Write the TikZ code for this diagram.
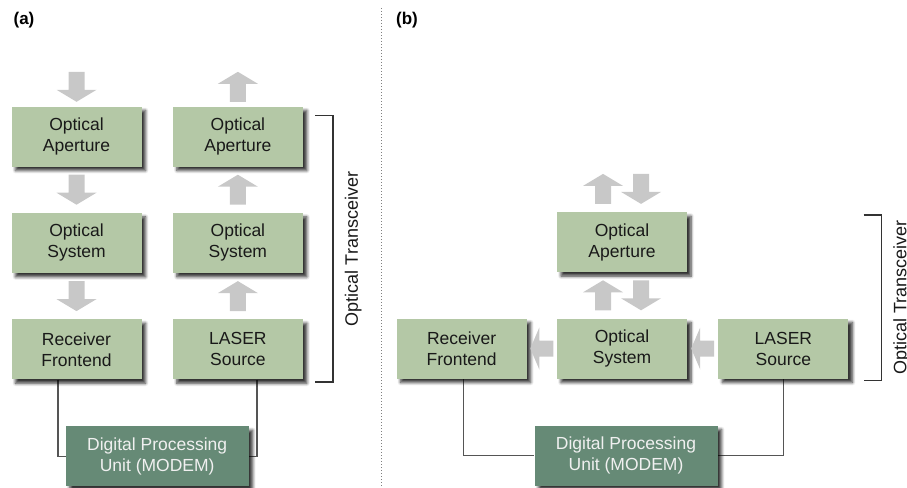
\documentclass[tikz,border=0pt]{standalone}
\usepackage{fontspec}
\setmainfont{Liberation Sans}
\usetikzlibrary{positioning,calc,shadows.blur,backgrounds}

\definecolor{boxgreen}{HTML}{B4C8A6}
\definecolor{modemgreen}{HTML}{668A76}
\definecolor{beamgray}{HTML}{C8C8C8}
\definecolor{wiregray}{HTML}{555555}

\begin{document}
\begin{tikzpicture}[x=1pt,y=-1pt,
  block/.style={rectangle,fill=boxgreen,minimum width=130pt,minimum height=60pt,
    align=center,inner sep=0pt,text=black!90,font=\fontsize{17.5}{21}\selectfont,
    blur shadow={shadow xshift=4pt,shadow yshift=-4pt,shadow blur radius=3pt,
      shadow blur steps=6,shadow opacity=80}},
  modem/.style={block,fill=modemgreen,minimum width=183pt,text=white!94!black},
  wire/.style={draw=wiregray,line width=1.4pt},
  bracket/.style={draw=black!80,line width=1.3pt},
  side label/.style={rotate=90,font=\fontsize{18}{21}\selectfont,text=black!90},
  tag/.style={font=\fontsize{17}{20}\selectfont\bfseries},
  beam/.pic={\fill[beamgray] (-8,-15) -- (-8,3) -- (-20,3) -- (0,15) -- (20,3) -- (8,3) -- (8,-15) -- cycle;},
  beamshort/.pic={\fill[beamgray] (-8,-11.5) -- (-8,2.5) -- (-21,2.5) -- (0,11.5) -- (21,2.5) -- (8,2.5) -- (8,-11.5) -- cycle;}]
  \useasboundingbox (0,0) rectangle (907,487);

  % (a) separate receive and transmit paths
  \node[tag] (taga) at (24,20) {(a)};
  \node[block] (apain) at (76.5,136.5) {Optical\\Aperture};
  \node[block] (sysin) [below=46pt of apain] {Optical\\System};
  \node[block] (rxa) [below=46pt of sysin] {Receiver\\Frontend};
  \node[block] (apaout) [right=31pt of apain] {Optical\\Aperture};
  \node[block] (sysout) [right=31pt of sysin] {Optical\\System};
  \node[block] (lsa) [right=31pt of rxa] {LASER\\Source};
  \node[modem] (dpua) at ($(rxa)!0.5!(lsa)+(0,107)$) {Digital Processing\\Unit (MODEM)};

  \pic at ($(apain.north)+(0,-19.5)$) {beam};
  \pic at ($(apain.south)!0.5!(sysin.north)$) {beam};
  \pic at ($(sysin.south)!0.5!(rxa.north)$) {beam};
  \pic[rotate=180] at ($(apaout.north)+(0,-19.5)$) {beam};
  \pic[rotate=180] at ($(apaout.south)!0.5!(sysout.north)$) {beam};
  \pic[rotate=180] at ($(sysout.south)!0.5!(lsa.north)$) {beam};

  \coordinate (rxtap) at ($(rxa.south)+(-18.5,0)$);
  \coordinate (lstap) at ($(lsa.south)+(19,0)$);

  \coordinate (bra1) at ($(apaout.north east)+(12,9.5)$);
  \coordinate (bra2) at ($(lsa.south east)+(12,2.5)$);
  \draw[bracket] (bra1) -- ++(18,0) |- (bra2);
  \node[side label] (trxa) at ($(bra1)!0.5!(bra2)+(38,0)$) {Optical Transceiver};

  % divider
  \draw[gray,dotted,line width=1pt] (381,8) -- (381,487);

  % (b) shared aperture
  \node[tag] (tagb) at (407,20) {(b)};
  \node[block] (sysb) at (622,348.5) {Optical\\System};
  \node[block] (apb) [above=46pt of sysb] {Optical\\Aperture};
  \node[block] (rxb) [left=30pt of sysb] {Receiver\\Frontend};
  \node[block] (lsb) [right=31pt of sysb] {LASER\\Source};
  \node[modem] (dpub) at ($(sysb)+(4,107)$) {Digital Processing\\Unit (MODEM)};

  \pic[rotate=180] at ($(apb.north)+(-19,-23)$) {beam};
  \pic at ($(apb.north)+(19,-23)$) {beam};
  \pic[rotate=180] at ($(apb.south)!0.5!(sysb.north)+(-19,0)$) {beam};
  \pic at ($(apb.south)!0.5!(sysb.north)+(19,0)$) {beam};
  \pic[rotate=-90] at ($(rxb.east)!0.5!(sysb.west)$) {beamshort};
  \pic[rotate=-90] at ($(sysb.east)!0.5!(lsb.west)$) {beamshort};

  \coordinate (brb1) at ($(lsb.east |- apb.north)+(15,3)$);
  \coordinate (brb2) at ($(lsb.south east)+(15,1.5)$);
  \draw[bracket] (brb1) -- ++(18,0) |- (brb2);
  \node[side label] (trxb) at ($(brb1)!0.5!(brb2)+(38,0)$) {Optical Transceiver};

  % wires to the modems, behind the boxes
  \begin{scope}[on background layer]
    \draw[wire] (rxtap) |- (dpua.west);
    \draw[wire] (lstap) |- (dpua.east);
    \draw[wire] ($(rxb.south)+(2,0)$) |- (dpub.west);
    \draw[wire] (lsb.south) |- (dpub.east);
  \end{scope}
\end{tikzpicture}
\end{document}
